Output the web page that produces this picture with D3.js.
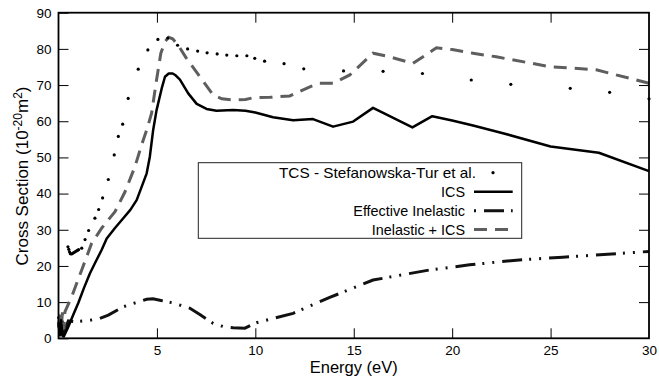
<!DOCTYPE html>
<html><head><meta charset="utf-8">
<script src="https://cdn.jsdelivr.net/npm/d3@7"></script>
<style>
html,body{margin:0;padding:0;background:#fff;}
svg{display:block;font-family:"Liberation Sans",Arial,Helvetica,sans-serif;}
</style></head>
<body><svg id="chart" width="659" height="386"></svg>
<script>
// ---- data ----
const tcsE = [0.48,0.52,0.56,0.6,0.66,0.72,0.78,0.84,0.9,0.96,1.02,1.18,1.35,1.53,1.85,2.04,2.24,2.53,2.83,3.04,3.26,3.54,4.05,4.54,5.05,5.55,6.05,6.56,7.07,7.55,8.06,8.55,9.06,9.57,9.97,10.47,11.46,12.46,14.48,16.49,18.49,20.97,22.98,26.0,28.0,30.0];
const tcsV = [25.3,24.6,23.9,23.4,23.3,23.5,23.7,23.9,24.1,24.3,24.5,24.9,27.3,29.8,33.2,35.6,38.8,43.9,50.7,55.8,59.2,66.3,74.4,79.7,82.6,83.0,81.0,80.0,79.4,78.9,78.6,78.3,78.1,78.1,77.4,76.6,75.9,74.5,73.9,73.8,73.2,71.4,70.2,69.1,68.0,66.2];

const icsE = [0.0,0.07,0.13,0.2,0.27,0.5,0.75,1.0,1.3,1.6,1.9,2.19,2.45,2.87,3.29,3.65,3.97,4.2,4.48,4.64,4.81,4.98,5.24,5.41,5.6,5.8,5.95,6.17,6.59,7.02,7.52,8.03,8.87,9.5,10.0,10.9,11.92,12.93,13.95,14.97,15.98,17.98,18.99,20.0,21.06,22.58,25.0,27.45,30.0];
const icsV = [4.5,1.0,5.0,0.8,0.5,3.2,6.5,9.7,14.0,18.0,21.3,24.4,27.6,30.5,33.2,35.5,38.2,41.5,45.6,50.2,57.6,63.0,69.0,72.3,73.2,73.2,72.7,71.5,67.7,64.8,63.4,62.9,63.1,62.9,62.4,61.1,60.3,60.6,58.5,59.9,63.7,58.3,61.4,60.2,58.8,56.7,53.0,51.3,46.2];

const effE = [0.0,0.08,0.16,0.25,0.3,0.5,0.84,1.51,2.1,2.53,3.29,3.72,4.48,4.8,5.15,5.8,6.68,7.2,7.86,8.4,8.87,9.47,10.06,11.0,11.92,12.8,13.78,15.98,18.86,20.89,23.26,25.62,27.5,30.0];
const effV = [6.0,0.5,6.4,1.5,2.0,4.8,4.6,4.9,5.5,6.4,8.7,9.5,10.8,10.9,10.5,9.8,8.3,6.5,4.1,3.2,2.9,2.8,4.3,5.6,6.9,9.0,11.3,16.1,18.9,20.3,21.6,22.4,23.1,24.0];

const sumE = [0.0,0.07,0.13,0.2,0.27,0.33,0.67,1.18,1.68,2.2,2.87,3.38,3.88,4.25,4.48,4.73,4.98,5.2,5.41,5.6,5.8,6.08,6.5,7.18,7.86,8.3,8.87,9.5,9.89,10.74,11.75,12.77,13.27,13.95,14.8,15.98,16.83,18.01,19.2,20.0,21.06,22.24,24.95,27.32,30.0];
const sumV = [3.0,7.0,2.0,7.2,2.5,7.4,11.5,18.9,26.2,30.5,35.0,40.5,47.4,53.9,57.6,62.2,71.4,78.8,82.0,83.2,82.8,81.0,77.4,72.3,67.2,66.2,65.9,66.0,66.5,66.6,67.0,69.5,70.5,70.5,72.8,78.8,77.8,76.0,80.3,79.8,78.8,77.8,75.1,74.2,70.5];

const xTicks = [5,10,15,20,25,30];
const yTicks = [0,10,20,30,40,50,60,70,80,90];
const legendLabels = ["TCS - Stefanowska-Tur et al.","ICS","Effective Inelastic","Inelastic + ICS"];

// ---- layout ----
const W = 659, H = 386;
const m = {left:58.5, top:12.7, right:10, bottom:47.7};
const svg = d3.select("#chart");
const x = d3.scaleLinear().domain([0,30]).range([m.left, W-m.right]);
const y = d3.scaleLinear().domain([0,90]).range([H-m.bottom, m.top]);

const tickLen = 10;
// axes
const gx = svg.append("g").attr("transform",`translate(0,${y(0)})`)
  .call(d3.axisBottom(x).tickValues(xTicks).tickSize(-tickLen).tickPadding(7).tickFormat(d3.format("d")));
const gy = svg.append("g").attr("transform",`translate(${x(0)},0)`)
  .call(d3.axisLeft(y).tickValues(yTicks).tickSize(-tickLen).tickPadding(7).tickFormat(d3.format("d")));
const gxt = svg.append("g").attr("transform",`translate(0,${y(90)})`)
  .call(d3.axisTop(x).tickValues(xTicks.filter(d=>d<30)).tickSize(-tickLen).tickFormat(""));
const gyr = svg.append("g").attr("transform",`translate(${x(30)},0)`)
  .call(d3.axisRight(y).tickValues(yTicks.filter(d=>d>0&&d<90)).tickSize(-tickLen).tickFormat(""));
[gx,gy,gxt,gyr].forEach(g=>{
  g.select(".domain").remove();
  g.selectAll(".tick line").attr("stroke","#000").attr("stroke-width",1);
  g.selectAll(".tick text").attr("fill","#000").style("font-size","13.5px").style("font-family","'Liberation Sans',Arial,sans-serif");
});
gx.selectAll(".tick").filter(d=>d===30).select("line").remove();

// data lines
const line = d3.line().x(d=>x(d[0])).y(d=>y(d[1]));
const zip = (a,b)=>a.map((v,i)=>[v,b[i]]);

svg.append("path").datum(zip(effE,effV)).attr("d",line)
  .attr("fill","none").attr("stroke","#111").attr("stroke-width",3)
  .attr("stroke-dasharray","2,8,20,7,2,8");
svg.append("path").datum(zip(sumE,sumV)).attr("d",line)
  .attr("fill","none").attr("stroke","#5e5e5e").attr("stroke-width",3)
  .attr("stroke-dasharray","13,8");
svg.append("path").datum(zip(icsE,icsV)).attr("d",line)
  .attr("fill","none").attr("stroke","#000").attr("stroke-width",2.5)
  .attr("stroke-linejoin","round");
svg.append("g").selectAll("circle").data(zip(tcsE,tcsV)).join("circle")
  .attr("cx",d=>x(d[0])).attr("cy",d=>y(d[1])).attr("r",1.6).attr("fill","#000");

// frame
svg.append("rect").attr("x",x(0)).attr("y",y(90)).attr("width",x(30)-x(0)).attr("height",y(0)-y(90))
  .attr("fill","none").attr("stroke","#000").attr("stroke-width",1.8);

// axis titles
svg.append("text").attr("x",(x(0)+x(30))/2).attr("y",373).attr("text-anchor","middle")
  .style("font-size","16.5px").text("Energy (eV)");
const yt = svg.append("text").attr("transform","translate(28,176) rotate(-90)").attr("text-anchor","middle")
  .style("font-size","17px");
yt.append("tspan").text("Cross Section (10");
yt.append("tspan").attr("dy","-6.5").style("font-size","12px").text("-20");
yt.append("tspan").attr("dy","6.5").text("m");
yt.append("tspan").attr("dy","-6.5").style("font-size","12px").text("2");
yt.append("tspan").attr("dy","6.5").text(")");

// legend
const lg = svg.append("g");
lg.append("rect").attr("x",198.3).attr("y",162.7).attr("width",521.7-198.3).attr("height",238.3-162.7)
  .attr("fill","#fff").attr("stroke","#222").attr("stroke-width",1);
const rowY = [172.7,191.7,210.7,229.5];
const textEnd = [476,465,465,465];
legendLabels.forEach((t,i)=>{
  const tx = lg.append("text").attr("x",textEnd[i]).attr("y",rowY[i]).attr("dy","0.36em")
    .attr("text-anchor","end").style("font-size","14.4px").text(t);
  if(i===0) tx.attr("textLength",197).attr("lengthAdjust","spacingAndGlyphs");
});
lg.append("circle").attr("cx",493).attr("cy",rowY[0]).attr("r",1.6).attr("fill","#000");
lg.append("line").attr("x1",474).attr("x2",512.7).attr("y1",rowY[1]).attr("y2",rowY[1])
  .attr("stroke","#000").attr("stroke-width",2.5);
lg.append("line").attr("x1",474).attr("x2",512.7).attr("y1",rowY[2]).attr("y2",rowY[2])
  .attr("stroke","#111").attr("stroke-width",3).attr("stroke-dasharray","2,8,20,7,2,8");
lg.append("line").attr("x1",474).attr("x2",512.7).attr("y1",rowY[3]).attr("y2",rowY[3])
  .attr("stroke","#5e5e5e").attr("stroke-width",3).attr("stroke-dasharray","13,8");
</script>
</body></html>
